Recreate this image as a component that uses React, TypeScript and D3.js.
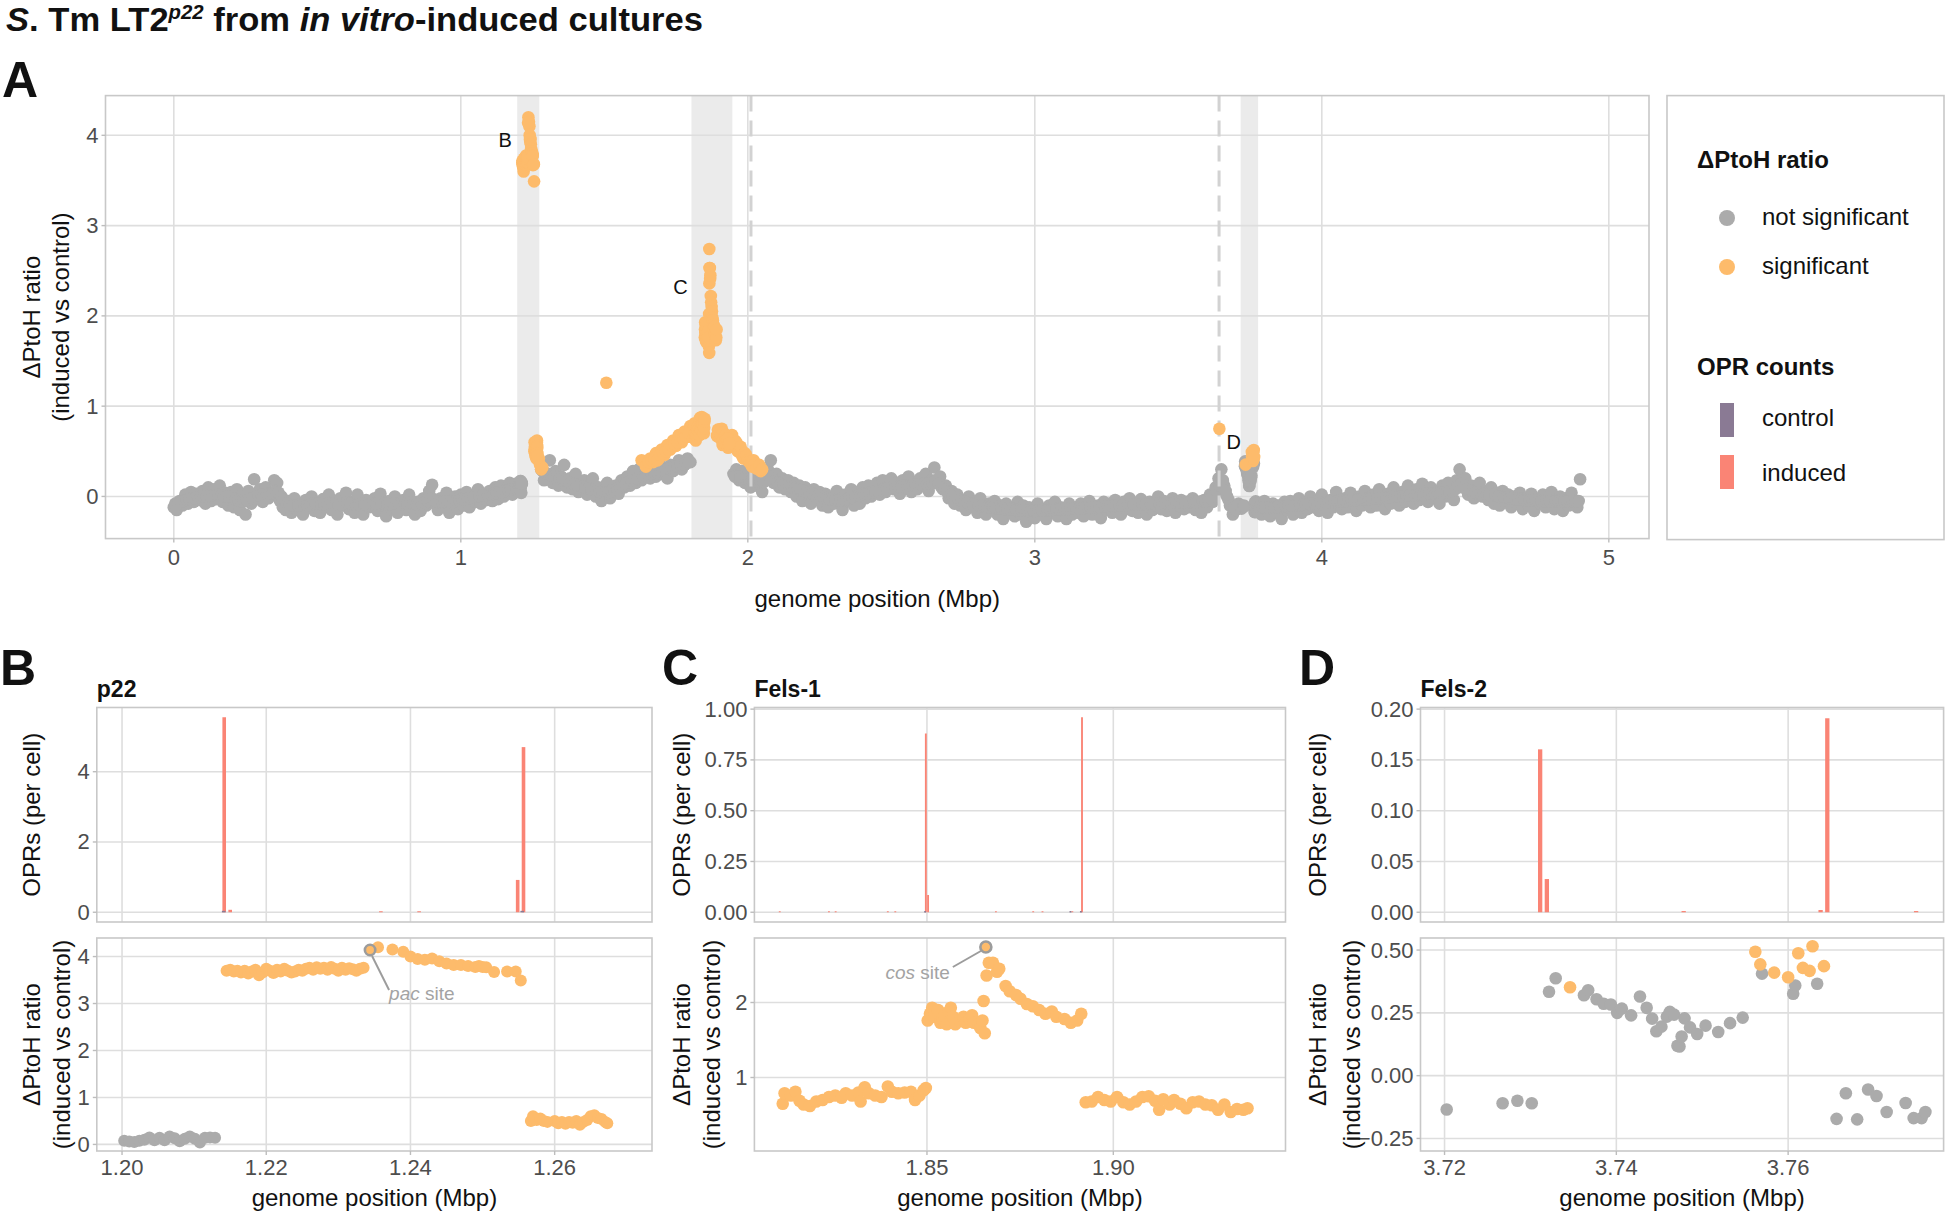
import React from "react";
import * as d3 from "d3";

// ---------------- DATA ----------------
// Panel A: genome-wide ΔPtoH ratio bins (0.01 Mbp bins), values in hundredths
const grayA1Start = 0.0;
const grayA1 = [
  -12, -15, -5, -10, 2, -8, 5, -6, 3, -4,
  6, -8, 10, -5, 8, -3, 12, -6, 4, -10,
  5, -12, 8, -15, 2, -20, 6, -8, 19, -3,
  8, -6, 10, -2, 4, 18, 15, -5, -12, -15,
  -5, -18, -2, -15, -8, -20, -4, -12, 0, -16,
  -6, -18, -3, -12, 2, -15, -5, -20, -2, -10,
  4, -14, -6, -18, 2, -10, -20, -4, -12, -8,
  -2, -16, 3, -10, -22, -5, -14, 0, -18, -8,
  -4, -15, 2, -12, -20, -6, -16, -2, -10, 6,
  13, -8, -15, -2, -12, 4, -18, -6, 0, -14,
  2, -10, 5, -12, 0, -6, 8, -8, 3, -4,
  6, -5, 10, -3, 12, 0, 8, 15, 2, 14,
  10,
];
// interleaved bins (offset 0.005 Mbp), band centre
const grayA1bStart = 0.005;
const grayA1b = [
  -8, -8, -6, -5, -4, -3, -2, -2, -1, 0,
  0, 0, 1, 1, 2, 2, 1, 0, 0, -1,
  -2, -3, -4, -5, -5, -4, -3, -2, 0, 1,
  2, 2, 3, 3, 4, 6, 4, 0, -4, -8,
  -9, -10, -10, -10, -10, -11, -10, -9, -8, -8,
  -8, -9, -9, -8, -8, -8, -9, -10, -9, -8,
  -7, -8, -9, -10, -9, -8, -9, -10, -9, -8,
  -8, -8, -7, -8, -9, -9, -8, -8, -9, -9,
  -8, -8, -7, -8, -9, -8, -8, -7, -5, -3,
  -3, -5, -6, -6, -6, -6, -7, -6, -5, -4,
  -3, -3, -2, -2, -1, 0, 0, 1, 1, 2,
  2, 3, 4, 4, 5, 6, 7, 8, 8, 9,
];
const grayA2Start = 1.28;
const grayA2 = [
  30, 18, 25, 40, 15, 28, 12, 22, 35, 10,
  20, 8, 25, 5, 15, 18, 2, 12, 20, 0,
  10, -5, 6, 15, -2, 8, 12, 3, 18, 10,
  22, 12, 28, 15, 30, 18, 35, 25, 20, 30,
  22, 38, 25, 30, 20, 35, 28, 32, 40, 30,
  35, 42, 38,
];
const grayA2bStart = 1.285;
const grayA2b = [
  28, 26, 25, 24, 22, 21, 20, 19, 18, 17,
  15, 14, 13, 12, 11, 10, 9, 8, 7, 6,
  5, 4, 4, 5, 6, 7, 8, 10, 12, 14,
  16, 18, 19, 20, 21, 22, 23, 24, 25, 26,
  27, 28, 29, 30, 31, 32, 33, 34, 35, 36,
  37, 38,
];
const grayA3Start = 1.95;
const grayA3 = [
  25, 30, 18, 28, 15, 22, 10, 25, 12, 20,
  5, 18, 30, 40, 15, 25, 10, 20, 8, 18,
  5, 15, 0, 12, -5, 10, 2, -8, 8, -2,
  5, -10, 3, -12, 0, -8, 6, -5, -15, 2,
  -5, 8, -10, 5, -8, 10, -2, 12, 0, 8,
  15, 2, 18, 5, 12, 20, 8, 15, 3, 18,
  10, 22, 5, 15, 8, 20, 12, 25, 6, 18,
  32, 15, 22, 8, 12, -2, 6, -8, 2, -10,
  -5, -15, 0, -12, -6, -18, -2, -10, -20, -8,
  -15, -5, -20, -10, -25, -8, -18, -12, -22, -6,
  -20, -10, -28, -12, -18, -24, -8, -20, -14, -25,
  -10, -18, -6, -22, -12, -16, -25, -8, -20, -14,
  -18, -8, -22, -12, -5, -20, -15, -10, -24, -6,
  -15, -8, -18, -4, -12, -20, -6, -14, -2, -16,
  -8, -18, -3, -12, -20, -6, -15, -10, 0, -14,
  -5, -16, -8, -2, -18, -10, -4, -14, -6, -12,
  -2, -15, -8, -18, -4, -12, 2, -6, 10, 20,
  30, 12, 0, -10, -20, -15, -8,
];
const grayA3bStart = 1.955;
const grayA3b = [
  22, 22, 21, 20, 19, 18, 18, 17, 17, 16,
  16, 18, 22, 20, 17, 15, 14, 13, 12, 11,
  10, 9, 8, 7, 6, 5, 4, 3, 2, 1,
  0, -1, -2, -3, -3, -4, -4, -4, -3, -3,
  -2, -1, 0, 1, 2, 3, 3, 4, 5, 5,
  6, 7, 8, 9, 9, 10, 10, 11, 11, 12,
  12, 12, 13, 13, 13, 13, 14, 14, 14, 15,
  18, 14, 10, 8, 5, 2, 0, -2, -4, -5,
  -6, -7, -8, -9, -10, -10, -11, -11, -12, -12,
  -12, -13, -13, -13, -14, -14, -14, -14, -15, -15,
  -15, -15, -16, -16, -16, -16, -15, -15, -15, -15,
  -15, -14, -14, -14, -14, -14, -14, -13, -13, -13,
  -13, -13, -12, -12, -12, -12, -11, -11, -11, -11,
  -11, -10, -10, -10, -10, -10, -10, -9, -9, -9,
  -9, -9, -9, -9, -9, -8, -8, -8, -8, -8,
  -8, -8, -8, -7, -7, -7, -7, -7, -7, -6,
  -6, -6, -6, -5, -5, -4, -2, 0, 5, 12,
  18, 6, -4, -10, -12, -10,
];
const grayA4Start = 3.78;
const grayA4 = [
  -12, -20, -5, -15, -22, -8, -18, -10, -25, -6,
  -15, -5, -20, -10, -2, -18, -8, -14, 0, -12,
  -6, -16, 2, -10, -18, -4, -12, 5, -8, -14,
  -2, -12, 4, -8, -16, 0, -10, 6, -6, -12,
  2, -10, 8, -4, -14, 3, -8, 10, -2, -10,
  5, -6, 12, 0, -8, 8, -4, 14, 2, -6,
  10, -2, 6, -8, 12, 0, 15, 4, -4, 18,
  30, 10, 20, 2, 12, -2, 8, 15, 0, 6,
  -4, 10, -8, 4, -10, 6, -6, 2, -12, 0,
  -8, 4, -14, -2, -10, 3, -16, -4, -8, 2,
  -12, -4, 5, -14, -6, 0, -16, -2, -10, 4,
  -8, -12, 19,
];
const grayA4bStart = 3.785;
const grayA4b = [
  -12, -12, -12, -12, -12, -12, -12, -11, -11, -11,
  -10, -10, -10, -10, -9, -9, -9, -8, -8, -8,
  -8, -7, -7, -7, -6, -6, -6, -5, -5, -5,
  -5, -4, -4, -4, -4, -3, -3, -3, -3, -2,
  -2, -2, -2, -1, -1, -1, 0, 0, 0, 0,
  0, 1, 1, 1, 1, 2, 2, 2, 3, 3,
  3, 3, 4, 4, 4, 5, 5, 6, 8, 12,
  14, 10, 8, 6, 5, 4, 4, 3, 3, 2,
  2, 1, 1, 0, 0, -1, -1, -2, -2, -3,
  -3, -3, -4, -4, -4, -4, -4, -5, -5, -5,
  -5, -5, -5, -5, -5, -5, -5, -5, -5, -5,
  -5, -5,
];
const orangeA: [number, number][] = [
  [1.272, 0.42], [1.276, 0.35], [1.28, 0.3], [1.284, 0.32], [1.507, 1.26], [1.63, 0.4],
  [1.65, 0.36], [1.66, 0.42], [1.67, 0.38], [1.68, 0.48], [1.69, 0.42], [1.7, 0.52],
  [1.71, 0.46], [1.72, 0.57], [1.73, 0.52], [1.74, 0.62], [1.75, 0.56], [1.76, 0.68],
  [1.77, 0.6], [1.78, 0.72], [1.79, 0.66], [1.8, 0.78], [1.805, 0.72],
  [1.645, 0.33], [1.655, 0.38], [1.665, 0.4], [1.675, 0.42], [1.685, 0.4], [1.695, 0.46],
  [1.705, 0.48], [1.715, 0.5], [1.725, 0.52], [1.735, 0.56], [1.745, 0.58], [1.755, 0.6],
  [1.765, 0.62], [1.775, 0.64], [1.785, 0.66], [1.795, 0.7],
  [1.94, 0.62], [1.945, 0.68], [1.95, 0.55], [1.955, 0.62], [1.96, 0.6], [1.965, 0.5], [1.97, 0.52],
  [1.975, 0.55], [1.98, 0.45], [1.985, 0.42], [1.99, 0.48], [1.995, 0.45], [2.0, 0.4], [2.005, 0.38],
  [2.01, 0.36], [2.015, 0.33], [2.02, 0.4], [2.025, 0.36], [2.03, 0.31], [2.04, 0.35], [2.045, 0.28],
  [2.05, 0.3], [3.643, 0.75],
];
const genomeTicks = [0, 1, 2, 3, 4, 5];
const ratioTicksA = [0, 1, 2, 3, 4];
const phageRegions: [number, number][] = [[1.1965, 1.2735], [1.8037, 1.9462], [3.7172, 3.7781]];
const dashedSites = [2.011, 3.642];
const regionLabels: [string, number, number][] = [["B", 1.155, 3.95], ["C", 1.765, 2.32], ["D", 3.693, 0.6]];

// Panel B (p22)
const bXTicks = [1.2, 1.22, 1.24, 1.26];
const bBarTicks = [0, 2, 4];
const bRatTicks = [0, 1, 2, 3, 4];
const bBars: [number, number][] = [[1.21417, 5.55], [1.215, 0.07], [1.2359, 0.01], [1.2412, 0.01], [1.25487, 0.92], [1.25568, 4.7]];
const bCtrl: [number, number][] = [[1.2141, 0.04], [1.2555, 0.04]];
const bGray: [number, number][] = [
  [1.2003, 0.08], [1.201, 0.06], [1.2017, 0.05], [1.2024, 0.08], [1.2031, 0.1], [1.2038, 0.15],
  [1.2045, 0.09], [1.2052, 0.14], [1.2059, 0.09], [1.2066, 0.17], [1.2073, 0.13], [1.208, 0.07],
  [1.2087, 0.12], [1.2094, 0.17], [1.2101, 0.12], [1.2108, 0.04], [1.2115, 0.14], [1.2122, 0.15], [1.2129, 0.14],
];
const bOrange: [number, number][] = [
  [1.2145, 3.7], [1.215, 3.72], [1.2155, 3.68], [1.216, 3.7], [1.2165, 3.66], [1.217, 3.7], [1.2175, 3.64],
  [1.218, 3.68], [1.2185, 3.72], [1.219, 3.6], [1.2195, 3.66], [1.22, 3.74], [1.2205, 3.7], [1.221, 3.65],
  [1.2215, 3.72], [1.222, 3.68], [1.2225, 3.74], [1.223, 3.7], [1.2235, 3.66], [1.224, 3.68], [1.2245, 3.72],
  [1.225, 3.7], [1.2255, 3.74], [1.226, 3.76], [1.2265, 3.72], [1.227, 3.77], [1.2275, 3.74], [1.228, 3.76],
  [1.2285, 3.72], [1.229, 3.78], [1.2295, 3.74], [1.23, 3.7], [1.2305, 3.76], [1.231, 3.72], [1.2315, 3.75],
  [1.232, 3.73], [1.2325, 3.7], [1.233, 3.74], [1.2335, 3.76],
  [1.2355, 4.2], [1.2375, 4.15], [1.239, 4.1], [1.24, 4.0], [1.241, 3.95], [1.242, 3.93], [1.243, 3.96],
  [1.244, 3.9], [1.245, 3.85], [1.246, 3.82], [1.247, 3.82], [1.248, 3.8], [1.249, 3.78], [1.2495, 3.8],
  [1.25, 3.78], [1.2505, 3.77], [1.2516, 3.67], [1.2534, 3.68], [1.2546, 3.68], [1.2553, 3.49],
  [1.2567, 0.5], [1.257, 0.6], [1.2575, 0.52], [1.258, 0.55], [1.2585, 0.5], [1.259, 0.48], [1.26, 0.5],
  [1.2605, 0.45], [1.261, 0.48], [1.2615, 0.44], [1.262, 0.48], [1.2625, 0.46], [1.263, 0.5], [1.2635, 0.42],
  [1.264, 0.48], [1.2645, 0.52], [1.265, 0.6], [1.2655, 0.62], [1.266, 0.56], [1.2665, 0.54], [1.267, 0.48], [1.2673, 0.45],
];
const bSite: [number, number] = [1.2344, 4.14];

// Panel C (Fels-1)
const cXTicks = [1.85, 1.9];
const cBarTicks = [0, 0.25, 0.5, 0.75, 1.0];
const cRatTicks = [1, 2];
const cBars: [number, number][] = [
  [1.8497, 0.88], [1.8503, 0.085], [1.8916, 0.96], [1.8105, 0.003], [1.8237, 0.003], [1.8255, 0.003],
  [1.8395, 0.003], [1.8415, 0.003], [1.8685, 0.003], [1.8785, 0.003], [1.881, 0.003], [1.889, 0.004],
];
const cCtrl: [number, number][] = [[1.8495, 0.006], [1.8885, 0.006], [1.8913, 0.006]];
const cOrange: [number, number][] = [
  [1.8113, 0.65], [1.8118, 0.79], [1.8135, 0.76], [1.8147, 0.81], [1.8158, 0.69], [1.8169, 0.64],
  [1.8186, 0.62], [1.8203, 0.68], [1.822, 0.7], [1.8237, 0.74], [1.8254, 0.76], [1.8271, 0.73],
  [1.8282, 0.79], [1.8299, 0.76], [1.8316, 0.8], [1.8322, 0.68], [1.8333, 0.87], [1.8344, 0.79],
  [1.8361, 0.76], [1.8378, 0.74], [1.8395, 0.88], [1.8406, 0.81], [1.8423, 0.79], [1.844, 0.8],
  [1.8457, 0.81], [1.8468, 0.7], [1.848, 0.76], [1.8491, 0.83], [1.8497, 0.86],
  [1.8502, 1.76], [1.8508, 1.85], [1.8514, 1.93], [1.8519, 1.81], [1.853, 1.9], [1.8536, 1.73],
  [1.8542, 1.78], [1.8547, 1.83], [1.8553, 1.71], [1.8559, 1.88], [1.8564, 1.93], [1.857, 1.81],
  [1.8576, 1.71], [1.8587, 1.76], [1.8598, 1.81], [1.8604, 1.73], [1.8615, 1.78], [1.8621, 1.83],
  [1.8626, 1.73], [1.8638, 1.71], [1.8643, 1.66], [1.8649, 1.76], [1.8655, 1.59], [1.8652, 2.02],
  [1.866, 2.36], [1.8666, 2.53], [1.8677, 2.53], [1.8688, 2.41], [1.8694, 2.45], [1.8711, 2.22],
  [1.8722, 2.15], [1.8739, 2.1], [1.8751, 2.05], [1.8768, 1.98], [1.8784, 1.95], [1.8801, 1.9],
  [1.8818, 1.85], [1.8835, 1.88], [1.8847, 1.81], [1.8869, 1.78], [1.8886, 1.73], [1.8903, 1.76], [1.8914, 1.85],
  [1.8926, 0.67], [1.8942, 0.68], [1.8959, 0.74], [1.8976, 0.7], [1.8993, 0.68], [1.901, 0.74],
  [1.9027, 0.67], [1.9044, 0.64], [1.9061, 0.68], [1.9078, 0.74], [1.9095, 0.75], [1.9112, 0.69],
  [1.9123, 0.57], [1.9134, 0.71], [1.9151, 0.64], [1.9163, 0.7], [1.918, 0.65], [1.9196, 0.59],
  [1.9213, 0.67], [1.923, 0.68], [1.9247, 0.64], [1.9264, 0.63], [1.9281, 0.57], [1.9298, 0.64],
  [1.9315, 0.54], [1.9332, 0.58], [1.9349, 0.57], [1.936, 0.59],
];
const cGray: [number, number][] = [];
const cSite: [number, number] = [1.8658, 2.74];

// Panel D (Fels-2)
const dXTicks = [3.72, 3.74, 3.76];
const dBarTicks = [0, 0.05, 0.1, 0.15, 0.2];
const dRatTicks = [-0.25, 0, 0.25, 0.5];
const dBars: [number, number][] = [[3.73113, 0.1604], [3.73191, 0.0327], [3.74784, 0.0012], [3.76378, 0.0022], [3.76456, 0.191], [3.7749, 0.0012]];
const dCtrl: [number, number][] = [];
const dGray: [number, number][] = [
  [3.72025, -0.135], [3.72676, -0.11], [3.72848, -0.1], [3.73015, -0.11], [3.73216, 0.334], [3.73294, 0.388],
  [3.73623, 0.32], [3.73672, 0.34], [3.7377, 0.304], [3.73853, 0.286], [3.73936, 0.283], [3.7401, 0.25],
  [3.74064, 0.267], [3.74172, 0.24], [3.74275, 0.315], [3.74353, 0.27], [3.74417, 0.227], [3.74466, 0.177],
  [3.74525, 0.195], [3.74588, 0.235], [3.74623, 0.254], [3.74672, 0.243], [3.74711, 0.119], [3.74735, 0.116],
  [3.7476, 0.156], [3.74794, 0.228], [3.74858, 0.192], [3.74941, 0.166], [3.75039, 0.199], [3.75186, 0.174],
  [3.75324, 0.209], [3.75471, 0.231], [3.75696, 0.406], [3.76059, 0.326], [3.76083, 0.359], [3.76338, 0.366],
  [3.76564, -0.172], [3.76672, -0.07], [3.76804, -0.174], [3.76931, -0.055], [3.77029, -0.081], [3.77147, -0.145],
  [3.77368, -0.109], [3.77461, -0.169], [3.77554, -0.169], [3.77598, -0.145],
];
const dOrange: [number, number][] = [
  [3.73461, 0.352], [3.75618, 0.493], [3.75676, 0.443], [3.75838, 0.41], [3.76, 0.392], [3.76118, 0.487],
  [3.76172, 0.429], [3.7625, 0.417], [3.76284, 0.515], [3.76417, 0.436],
];

// ---------------- STYLE ----------------
const FONT = "'Liberation Sans', Arial, Helvetica, sans-serif";
const GRAY = "#ABABAB";
const ORANGE = "#FDBB6B";
const SALMON = "#FA8475";
const CONTROL = "#8A7A94";
const GRID = "#DEDEDE";
const BORDER = "#C8C8C8";
const TICKC = "#4D4D4D";
const TICKFS = 22;

type P = [number, number];

function gridAndBorder(x: any, y: any, xt: number[], yt: number[], l: number, r: number, t: number, b: number, key: string) {
  return (
    <g key={key}>
      {xt.map((v) => <line key={"gx" + v} x1={x(v)} x2={x(v)} y1={t} y2={b} stroke={GRID} strokeWidth={1.6} />)}
      {yt.map((v) => <line key={"gy" + v} x1={l} x2={r} y1={y(v)} y2={y(v)} stroke={GRID} strokeWidth={1.6} />)}
    </g>
  );
}

function YTicks({ y, ticks, fmt, x }: any) {
  return (
    <g>
      {ticks.map((v: number) => (
        <g key={v}>
          <line x1={x - 4} x2={x} y1={y(v)} y2={y(v)} stroke="#BDBDBD" strokeWidth={1.4} />
          <text x={x - 7} y={y(v)} textAnchor="end" dominantBaseline="central" fontSize={TICKFS} fill={TICKC} fontFamily={FONT}>{fmt(v)}</text>
        </g>
      ))}
    </g>
  );
}

function XTicks({ x, ticks, fmt, y, ly }: any) {
  return (
    <g>
      {ticks.map((v: number) => (
        <g key={v}>
          <line x1={x(v)} x2={x(v)} y1={y} y2={y + 4} stroke="#BDBDBD" strokeWidth={1.4} />
          <text x={x(v)} y={ly} textAnchor="middle" dominantBaseline="central" fontSize={TICKFS} fill={TICKC} fontFamily={FONT}>{fmt(v)}</text>
        </g>
      ))}
    </g>
  );
}

function ZoomPanel(p: any) {
  const topT = 707.5, topB = 922, botT = 938, botB = 1151;
  const x = d3.scaleLinear().domain(p.xDom).range([p.left, p.right]);
  const yb = d3.scaleLinear().domain(p.barDom).range([topB, topT]);
  const yr = d3.scaleLinear().domain(p.ratDom).range([botB, botT]);
  const barW = (c: number) => Math.max(1.6, x(c + 0.00025) - x(c - 0.00025));
  const midX = (p.left + p.right) / 2;
  const site = p.site as P | null;
  return (
    <g>
      <text x={p.letterX} y={685} fontSize={50} fontWeight={900} fontFamily={FONT} fill="#111">{p.letter}</text>
      <text x={p.left} y={697} fontSize={23} fontWeight="bold" fontFamily={FONT} fill="#111">{p.title}</text>
      {/* top: OPR bars */}
      {gridAndBorder(x, yb, p.xTicks, p.barTicks, p.left, p.right, topT, topB, "gt")}
      {(p.bars as P[]).map((d, i) => (
        <rect key={"b" + i} x={x(d[0]) - barW(d[0]) / 2} width={barW(d[0])} y={Math.min(yb(d[1]), yb(0) - 1)} height={Math.max(1, yb(0) - yb(d[1]))} fill={SALMON} />
      ))}
      {(p.ctrl as P[]).map((d, i) => (
        <rect key={"c" + i} x={x(d[0]) - barW(d[0]) / 2} width={barW(d[0])} y={yb(d[1])} height={Math.max(1.5, yb(0) - yb(d[1]))} fill={CONTROL} />
      ))}
      <rect x={p.left} y={topT} width={p.right - p.left} height={topB - topT} fill="none" stroke={BORDER} strokeWidth={1.6} />
      <YTicks y={yb} ticks={p.barTicks} fmt={p.barFmt} x={p.left} />
      {/* bottom: ratio points */}
      {gridAndBorder(x, yr, p.xTicks, p.ratTicks, p.left, p.right, botT, botB, "gb")}
      {(p.gray as P[]).map((d, i) => <circle key={"g" + i} cx={x(d[0])} cy={yr(d[1])} r={p.r} fill={GRAY} />)}
      {(p.orange as P[]).map((d, i) => <circle key={"o" + i} cx={x(d[0])} cy={yr(d[1])} r={p.r} fill={ORANGE} />)}
      {site && (
        <g>
          <circle cx={x(site[0])} cy={yr(site[1])} r={p.r - 0.8} fill={ORANGE} stroke="#9C9C9C" strokeWidth={2.6} />
          <line x1={x(site[0]) + p.lineFrom[0]} y1={yr(site[1]) + p.lineFrom[1]} x2={x(site[0]) + p.lineTo[0]} y2={yr(site[1]) + p.lineTo[1]} stroke="#9C9C9C" strokeWidth={2} />
          <text x={x(site[0]) + p.textAt[0]} y={yr(site[1]) + p.textAt[1]} textAnchor={p.anchor} fontSize={19} fill="#A3A3A3" fontFamily={FONT}>
            <tspan fontStyle="italic">{p.siteName}</tspan> site
          </text>
        </g>
      )}
      <rect x={p.left} y={botT} width={p.right - p.left} height={botB - botT} fill="none" stroke={BORDER} strokeWidth={1.6} />
      <YTicks y={yr} ticks={p.ratTicks} fmt={p.ratFmt} x={p.left} />
      <XTicks x={x} ticks={p.xTicks} fmt={d3.format(".2f")} y={botB} ly={1167} />
      <text x={midX} y={1197.6} textAnchor="middle" dominantBaseline="central" fontSize={24} fill="#111" fontFamily={FONT}>genome position (Mbp)</text>
      {/* y titles */}
      <text transform={`translate(${p.tx1},${(topT + topB) / 2}) rotate(-90)`} textAnchor="middle" dominantBaseline="central" fontSize={24} fill="#111" fontFamily={FONT}>OPRs (per cell)</text>
      <text transform={`translate(${p.tx1},${(botT + botB) / 2}) rotate(-90)`} textAnchor="middle" dominantBaseline="central" fontSize={24} fill="#111" fontFamily={FONT}>ΔPtoH ratio</text>
      <text transform={`translate(${p.tx2},${(botT + botB) / 2}) rotate(-90)`} textAnchor="middle" dominantBaseline="central" fontSize={24} fill="#111" fontFamily={FONT}>(induced vs control)</text>
    </g>
  );
}

function binSeries(start: number, vals: number[]): P[] {
  return vals.map((v, i) => [start + i * 0.01, v / 100] as P);
}

export default function App() {
  const W = 1946, H = 1211;
  const aL = 105.5, aR = 1649, aT = 95.6, aB = 538.6;
  const ax = d3.scaleLinear().domain([-0.238, 5.14]).range([aL, aR]);
  const ay = d3.scaleLinear().domain([-0.467, 4.44]).range([aB, aT]);

  const grayAll: P[] = [
    ...binSeries(grayA1Start, grayA1),
    ...binSeries(grayA1bStart, grayA1b),
    ...bGray,
    ...binSeries(grayA2Start, grayA2),
    ...binSeries(grayA2bStart, grayA2b),
    ...binSeries(grayA3Start, grayA3),
    ...binSeries(grayA3bStart, grayA3b),
    ...dGray,
    ...binSeries(grayA4Start, grayA4),
    ...binSeries(grayA4bStart, grayA4b),
  ];
  const orangeAll: P[] = [...orangeA, ...bOrange, bSite, ...cOrange, cSite, ...dOrange];

  const panels = [
    {
      letter: "B", letterX: 0, title: "p22", left: 96.8, right: 652, xDom: [1.1965, 1.2735], xTicks: bXTicks,
      barDom: [-0.2775, 5.8275], barTicks: bBarTicks, barFmt: d3.format("d"),
      ratDom: [-0.14, 4.395], ratTicks: bRatTicks, ratFmt: d3.format("d"),
      bars: bBars, ctrl: bCtrl, gray: bGray, orange: bOrange, site: bSite, siteName: "pac",
      lineFrom: [2, 6], lineTo: [19, 40], textAt: [19, 50], anchor: "start", tx1: 31.6, tx2: 61.5, r: 6,
    },
    {
      letter: "C", letterX: 662, title: "Fels-1", left: 754.4, right: 1285.5, xDom: [1.8037, 1.9462], xTicks: cXTicks,
      barDom: [-0.048, 1.008], barTicks: cBarTicks, barFmt: d3.format(".2f"),
      ratDom: [0.02, 2.86], ratTicks: cRatTicks, ratFmt: d3.format("d"),
      bars: cBars, ctrl: cCtrl, gray: cGray, orange: cOrange, site: cSite, siteName: "cos",
      lineFrom: [-5, 4], lineTo: [-33, 20], textAt: [-36, 32], anchor: "end", tx1: 681.6, tx2: 711, r: 6.3,
    },
    {
      letter: "D", letterX: 1299, title: "Fels-2", left: 1420.5, right: 1943.6, xDom: [3.7172, 3.7781], xTicks: dXTicks,
      barDom: [-0.0096, 0.2016], barTicks: dBarTicks, barFmt: d3.format(".2f"),
      ratDom: [-0.3, 0.548], ratTicks: dRatTicks, ratFmt: d3.format(".2f"),
      bars: dBars, ctrl: dCtrl, gray: dGray, orange: dOrange, site: null, siteName: "",
      lineFrom: [0, 0], lineTo: [0, 0], textAt: [0, 0], anchor: "start", tx1: 1317.4, tx2: 1351, r: 6.3,
    },
  ];

  return (
    <svg width={W} height={H} viewBox={`0 0 ${W} ${H}`} style={{ position: "absolute", left: 0, top: 0, background: "white" }}>
      <rect x={0} y={0} width={W} height={H} fill="white" />
      {/* main title */}
      <text x={6} y={31} fontSize={34} fontWeight="bold" fontFamily="'Liberation Sans Narrow', 'Liberation Sans', Arial, sans-serif" fill="#111" textLength={697} lengthAdjust="spacingAndGlyphs">
        <tspan fontStyle="italic">S</tspan>. Tm LT2<tspan fontSize={20} fontStyle="italic" dy={-12}>p22</tspan>
        <tspan dy={12}> from </tspan><tspan fontStyle="italic">in vitro</tspan>-induced cultures
      </text>

      {/* Panel A */}
      <text x={2} y={97} fontSize={50} fontWeight={900} fontFamily={FONT} fill="#111">A</text>
      {phageRegions.map((r, i) => (
        <rect key={"pr" + i} x={ax(r[0])} y={aT} width={ax(r[1]) - ax(r[0])} height={aB - aT} fill="#EBEBEB" />
      ))}
      {gridAndBorder(ax, ay, genomeTicks, ratioTicksA, aL, aR, aT, aB, "ga")}
      {grayAll.map((d, i) => <circle key={"ga" + i} cx={ax(d[0])} cy={ay(d[1])} r={6.3} fill={GRAY} />)}
      {dashedSites.map((s) => (
        <line key={"ds" + s} x1={ax(s)} x2={ax(s)} y1={aT} y2={aB} stroke="#D2D2D2" strokeWidth={3} strokeDasharray="16,9" />
      ))}
      {orangeAll.map((d, i) => <circle key={"oa" + i} cx={ax(d[0])} cy={ay(d[1])} r={6.3} fill={ORANGE} />)}
      {regionLabels.map((l) => (
        <text key={l[0]} x={ax(l[1])} y={ay(l[2])} textAnchor="middle" dominantBaseline="central" fontSize={20} fill="#111" fontFamily={FONT}>{l[0]}</text>
      ))}
      <rect x={aL} y={aT} width={aR - aL} height={aB - aT} fill="none" stroke={BORDER} strokeWidth={1.6} />
      <YTicks y={ay} ticks={ratioTicksA} fmt={d3.format("d")} x={aL} />
      <XTicks x={ax} ticks={genomeTicks} fmt={d3.format("d")} y={aB} ly={557} />
      <text x={(aL + aR) / 2} y={598} textAnchor="middle" dominantBaseline="central" fontSize={24} fill="#111" fontFamily={FONT}>genome position (Mbp)</text>
      <text transform={`translate(31,${(aT + aB) / 2}) rotate(-90)`} textAnchor="middle" dominantBaseline="central" fontSize={24} fill="#111" fontFamily={FONT}>ΔPtoH ratio</text>
      <text transform={`translate(60,${(aT + aB) / 2}) rotate(-90)`} textAnchor="middle" dominantBaseline="central" fontSize={24} fill="#111" fontFamily={FONT}>(induced vs control)</text>

      {/* Legend */}
      <rect x={1667} y={95.6} width={277} height={444} fill="white" stroke={BORDER} strokeWidth={1.6} />
      <text x={1697} y={168} fontSize={24} fontWeight="bold" fontFamily={FONT} fill="#111">ΔPtoH ratio</text>
      <circle cx={1727} cy={218} r={8} fill={GRAY} />
      <text x={1762} y={216} dominantBaseline="central" fontSize={24} fontFamily={FONT} fill="#111">not significant</text>
      <circle cx={1727} cy={267} r={8} fill={ORANGE} />
      <text x={1762} y={265} dominantBaseline="central" fontSize={24} fontFamily={FONT} fill="#111">significant</text>
      <text x={1697} y={375} fontSize={24} fontWeight="bold" fontFamily={FONT} fill="#111">OPR counts</text>
      <rect x={1720} y={403} width={14} height={34} fill={CONTROL} />
      <text x={1762} y={417} dominantBaseline="central" fontSize={24} fontFamily={FONT} fill="#111">control</text>
      <rect x={1720} y={455} width={14} height={34} fill={SALMON} />
      <text x={1762} y={472} dominantBaseline="central" fontSize={24} fontFamily={FONT} fill="#111">induced</text>

      {panels.map((p) => <ZoomPanel key={p.letter} {...p} />)}
    </svg>
  );
}
